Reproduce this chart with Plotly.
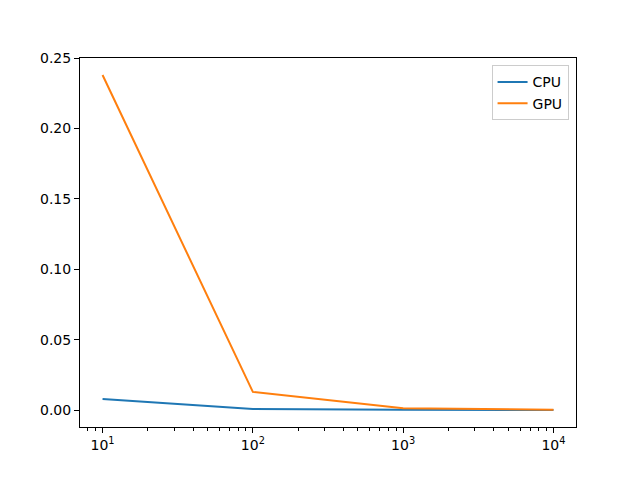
import plotly.graph_objects as go

sizes = [10, 100, 1000, 10000]
cpu_times = [0.008, 0.0008, 0.0003, 0.0001]
gpu_times = [0.238, 0.013, 0.0015, 0.0003]
xtick_vals = [10, 100, 1000, 10000]
xtick_text = ["10<sup>1</sup>", "10<sup>2</sup>", "10<sup>3</sup>", "10<sup>4</sup>"]
ytick_vals = [0.0, 0.05, 0.10, 0.15, 0.20, 0.25]
minor_vals = [m * 10 ** e for e in range(0, 5) for m in range(2, 10)]

fig = go.Figure()
fig.add_trace(go.Scatter(x=sizes, y=cpu_times, mode="lines", name="CPU",
                         line=dict(color="#1f77b4", width=2)))
fig.add_trace(go.Scatter(x=sizes, y=gpu_times, mode="lines", name="GPU",
                         line=dict(color="#ff7f0e", width=2)))

# page body has an 8px default margin; compensate so the plot area lands at 80..576 x 58..427
fig.update_layout(
    width=640, height=480,
    margin=dict(l=72, r=72, t=50, b=61),
    paper_bgcolor="white", plot_bgcolor="white",
    font=dict(family="DejaVu Sans", size=14, color="black"),
    showlegend=True,
    legend=dict(x=0.985, y=0.98, xanchor="right", yanchor="top",
                bordercolor="#cccccc", borderwidth=1, bgcolor="rgba(255,255,255,0.8)",
                font=dict(size=14)),
)
fig.update_xaxes(type="log", range=[0.85, 4.15], showgrid=False, zeroline=False,
                 showline=True, linecolor="black", linewidth=1, mirror=True,
                 ticks="outside", ticklen=5, tickcolor="black",
                 tickvals=xtick_vals, ticktext=xtick_text,
                 minor=dict(ticks="outside", ticklen=2.5, tickcolor="black", showgrid=False,
                            tickvals=minor_vals))
fig.update_yaxes(range=[-0.0119, 0.2501], showgrid=False, zeroline=False,
                 showline=True, linecolor="black", linewidth=1, mirror=True,
                 ticks="outside", ticklen=5, tickcolor="black",
                 tickvals=ytick_vals, tickformat=".2f")

fig.write_html("out.html")
